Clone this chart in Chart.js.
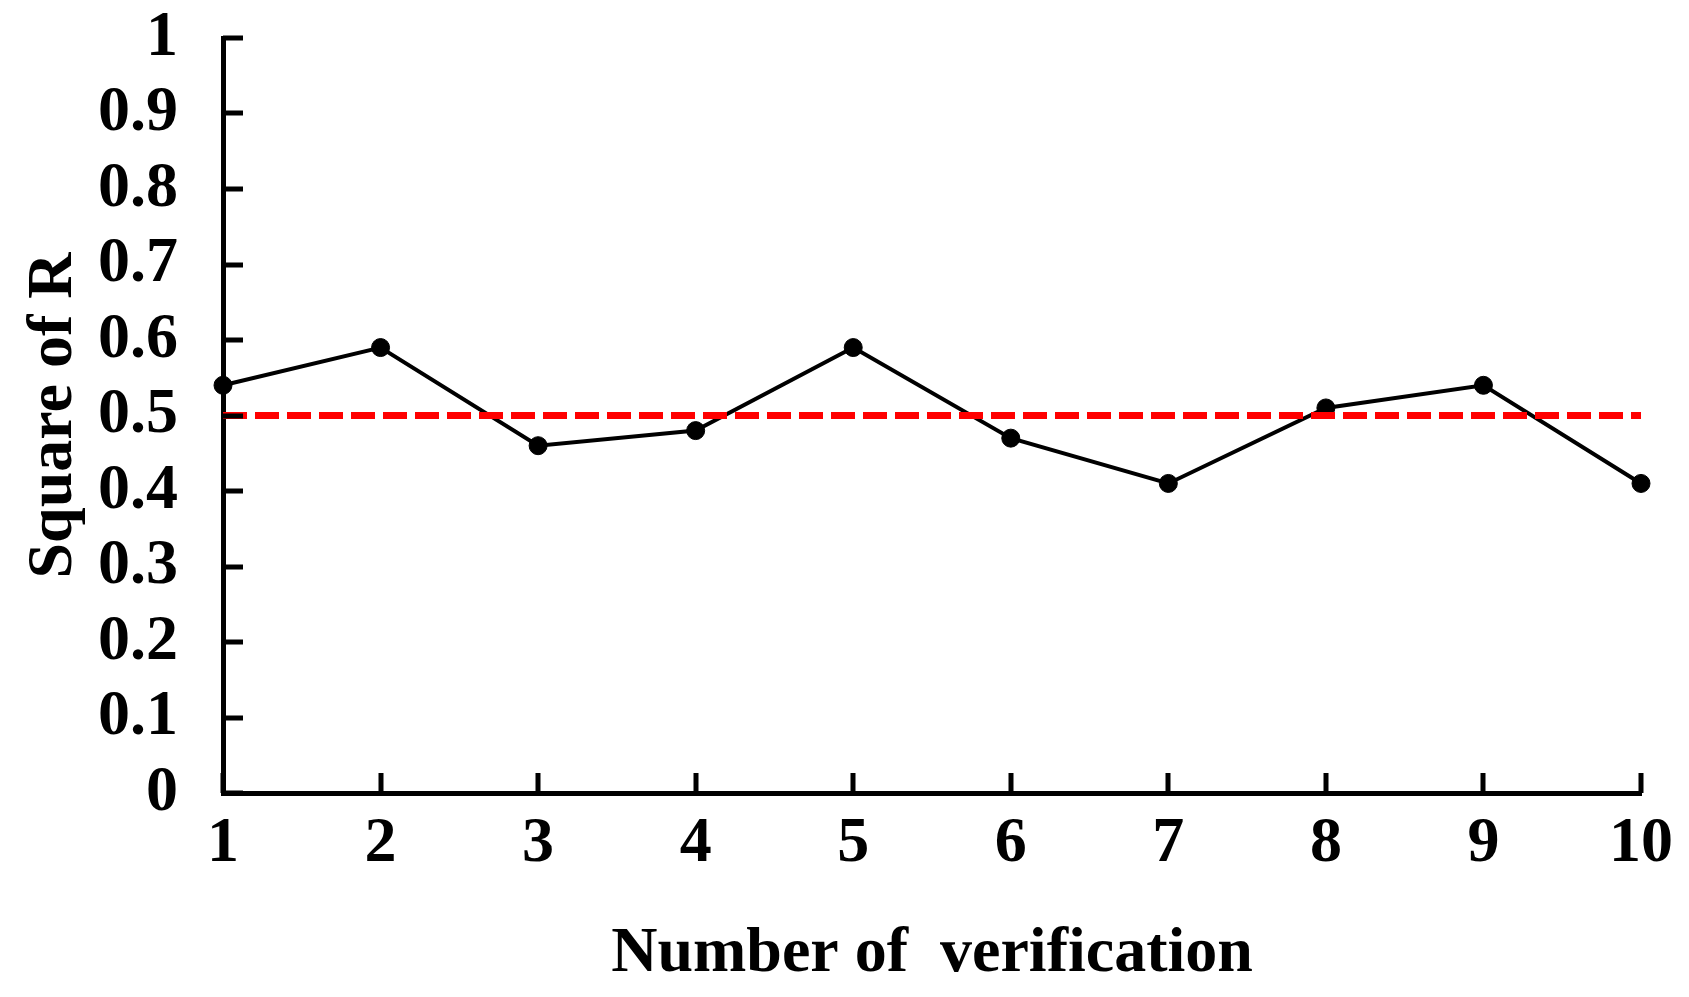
<!DOCTYPE html>
<html>
<head>
<meta charset="utf-8">
<script src="https://cdn.jsdelivr.net/npm/chart.js@4.4.1/dist/chart.umd.min.js"></script>
<style>
  html, body { margin: 0; padding: 0; background: #fff; }
  #wrap { width: 1689px; height: 997px; }
</style>
</head>
<body>
<div id="wrap"><canvas id="grafico"></canvas></div>
<script>
const verificacoes = ['1', '2', '3', '4', '5', '6', '7', '8', '9', '10'];
const quadradoR = [0.54, 0.59, 0.46, 0.48, 0.59, 0.47, 0.41, 0.51, 0.54, 0.41];
const limite = [0.5, 0.5, 0.5, 0.5, 0.5, 0.5, 0.5, 0.5, 0.5, 0.5];
const rotulosY = ['0', '0.1', '0.2', '0.3', '0.4', '0.5', '0.6', '0.7', '0.8', '0.9', '1'];

const fonte = "'Liberation Serif', 'Times New Roman', serif";

// tracinhos dos eixos voltados para dentro
const tracosInternos = {
  id: 'tracosInternos',
  afterDraw(chart) {
    const { ctx, scales: { x, y } } = chart;
    ctx.save();
    ctx.strokeStyle = '#000';
    ctx.lineWidth = 5;
    ctx.beginPath();
    y.ticks.forEach(t => {
      const py = Math.round(y.getPixelForValue(t.value));
      ctx.moveTo(x.left, py);
      ctx.lineTo(x.left + 20, py);
    });
    x.ticks.forEach((t, i) => {
      const px = Math.round(x.getPixelForValue(i));
      ctx.moveTo(px, y.bottom);
      ctx.lineTo(px, y.bottom - 20);
    });
    ctx.stroke();
    ctx.restore();
  }
};

new Chart(document.getElementById('grafico'), {
  type: 'line',
  data: {
    labels: verificacoes,
    datasets: [
      {
        label: 'Limite',
        data: limite,
        borderColor: '#ff0000',
        borderWidth: 7,
        borderDash: [24, 8],
        pointRadius: 0,
        fill: false,
        order: 0
      },
      {
        label: 'Square of R',
        data: quadradoR,
        borderColor: '#000',
        borderWidth: 4,
        pointRadius: 9,
        pointBackgroundColor: '#000',
        pointBorderColor: '#000',
        pointBorderWidth: 1,
        tension: 0,
        fill: false,
        order: 1
      }
    ]
  },
  options: {
    responsive: true,
    maintainAspectRatio: false,
    devicePixelRatio: 1,
    animation: false,
    layout: { padding: { top: 38, right: 48, left: 0, bottom: 0 } },
    plugins: {
      legend: { display: false },
      tooltip: { enabled: false }
    },
    scales: {
      x: {
        type: 'category',
        offset: false,
        grid: { display: true, drawOnChartArea: false, drawTicks: false, color: 'rgba(0,0,0,0)' },
        border: { display: true, color: '#000', width: 5 },
        ticks: {
          color: '#000',
          padding: 13,
          maxRotation: 0,
          autoSkip: false,
          font: { family: fonte, size: 64, weight: 'bold' }
        },
        title: {
          display: true,
          text: 'Number of  verification',
          color: '#000',
          padding: { top: 0, bottom: 4 },
          font: { family: fonte, size: 64, weight: 'bold' }
        },
        afterFit(scale) {
          scale.height = 204;
          scale.paddingLeft = 0;
          scale.paddingRight = 0;
        }
      },
      y: {
        min: 0,
        max: 1,
        grid: { display: true, drawOnChartArea: false, drawTicks: false, color: 'rgba(0,0,0,0)' },
        border: { display: true, color: '#000', width: 5 },
        ticks: {
          stepSize: 0.1,
          autoSkip: false,
          color: '#000',
          padding: 45,
          font: { family: fonte, size: 64, weight: 'bold' },
          callback: (v, i) => rotulosY[i]
        },
        title: {
          display: true,
          text: 'Square of R',
          color: '#000',
          padding: { top: 16, bottom: 0 },
          font: { family: fonte, size: 64, weight: 'bold' }
        },
        afterFit(scale) {
          scale.width = 223;
          scale.paddingTop = 0;
          scale.paddingBottom = 0;
        }
      }
    }
  },
  plugins: [tracosInternos]
});
</script>
</body>
</html>
